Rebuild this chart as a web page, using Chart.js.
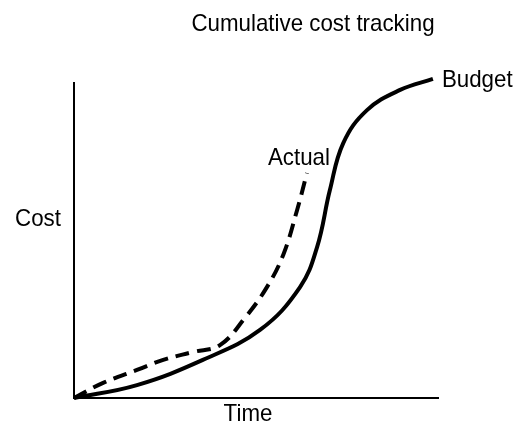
<!DOCTYPE html>
<html>
<head>
<meta charset="utf-8">
<script src="https://cdn.jsdelivr.net/npm/chart.js@4"></script>
<style>
  html, body { margin: 0; padding: 0; background: #fff; }
  #wrap { width: 517px; height: 426px; }
</style>
</head>
<body>
<div id="wrap"><canvas id="costChart"></canvas></div>
<script>
// time (0-100) and cumulative cost (0-100)
const budgetTime = [0, 17.3, 35.4, 51.1, 62.1, 66.8, 70.3, 74, 80.5, 89.6, 98.6];
const budgetCost = [0, 4.1, 12.1, 21.6, 35.2, 48, 66, 81, 91.4, 97.8, 101.3];
const actualTime = [0, 8, 17.3, 24.5, 32.7, 40.1, 47, 53, 57.5, 61.3, 64];
const actualCost = [0, 4.8, 8.9, 12.1, 14.6, 16.8, 25.5, 35.2, 45.5, 59.7, 71.4];
const seriesNames = ['Budget', 'Actual'];

const font = '24px "Liberation Sans", Arial, sans-serif';

function toPoints(xs, ys) {
    return xs.map((x, i) => ({ x: x, y: ys[i] }));
}

// slightly condensed text, like the original typeface
function drawText(c, str, x, y, align) {
    c.save();
    c.translate(x, y);
    c.scale(0.93, 1);
    c.textAlign = align;
    c.fillText(str, 0, 0);
    c.restore();
}

const textLabels = {
    id: 'textLabels',
    afterDraw(chart) {
        const c = chart.ctx;
        const xs = chart.scales.x, ys = chart.scales.y;
        const area = chart.chartArea;
        c.save();
        c.fillStyle = '#000';
        c.font = font;
        c.textBaseline = 'alphabetic';

        drawText(c, 'Cumulative cost tracking', 313, 31, 'center');

        const bx = xs.getPixelForValue(budgetTime[budgetTime.length - 1]);
        const by = ys.getPixelForValue(budgetCost[budgetCost.length - 1]);
        drawText(c, seriesNames[0], bx + 9, by + 8, 'left');

        const ax = xs.getPixelForValue(actualTime[actualTime.length - 1]);
        const ay = ys.getPixelForValue(actualCost[actualCost.length - 1]);
        drawText(c, seriesNames[1], ax - 8, ay - 8, 'center');

        drawText(c, 'Cost', 38, 226, 'center');
        drawText(c, 'Time', 248, area.bottom + 23, 'center');
        c.restore();
    }
};

new Chart(document.getElementById('costChart'), {
    type: 'line',
    data: {
        datasets: [
            {
                label: seriesNames[0],
                data: toPoints(budgetTime, budgetCost),
                borderColor: '#000',
                borderWidth: 4,
                pointRadius: 0,
                tension: 0.4,
                fill: false,
                clip: false
            },
            {
                label: seriesNames[1],
                data: toPoints(actualTime, actualCost),
                borderColor: '#000',
                borderWidth: 4,
                borderDash: [14, 8],
                pointRadius: 0,
                tension: 0.4,
                fill: false,
                clip: false
            }
        ]
    },
    options: {
        responsive: true,
        maintainAspectRatio: false,
        animation: false,
        layout: { padding: { left: 74, right: 79, top: 83, bottom: 28 } },
        plugins: {
            legend: { display: false },
            tooltip: { enabled: false }
        },
        scales: {
            x: {
                type: 'linear',
                min: 0,
                max: 100,
                grid: { display: false, drawTicks: false },
                ticks: { display: false },
                border: { display: true, color: '#000', width: 2 }
            },
            y: {
                type: 'linear',
                min: 0,
                max: 100,
                grid: { display: false, drawTicks: false },
                ticks: { display: false },
                border: { display: true, color: '#000', width: 2 }
            }
        }
    },
    plugins: [textLabels]
});
</script>
</body>
</html>
